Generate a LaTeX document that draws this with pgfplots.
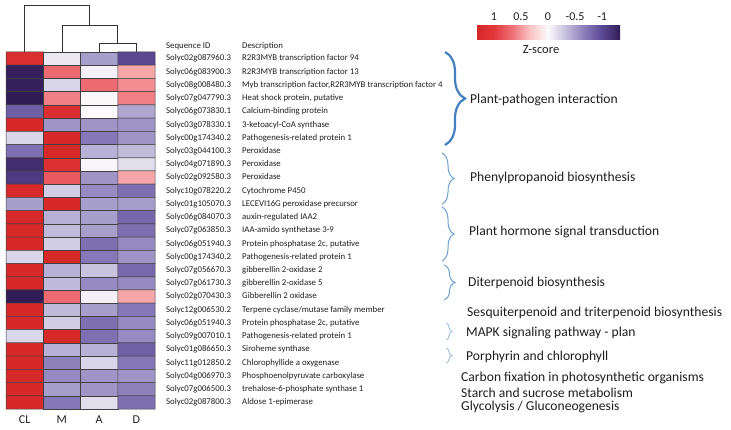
\documentclass[border=0pt]{standalone}
\usepackage{pgfplots}
\pgfplotsset{compat=1.18}
\usepackage{fontspec}
\setmainfont{Carlito}
\usetikzlibrary{decorations.pathreplacing}
\definecolor{bracebig}{RGB}{68,128,192}
\definecolor{bracesm}{RGB}{110,160,212}
\definecolor{bracexs}{RGB}{150,185,222}
\definecolor{txt}{RGB}{30,30,30}
\pgfplotsset{colormap={zs}{rgb255=(50,28,85) rgb255=(90,72,148) rgb255=(138,126,186) rgb255=(195,190,220) rgb255=(252,250,252) rgb255=(250,195,195) rgb255=(238,112,118) rgb255=(226,55,60) rgb255=(215,40,40)}}
\newcommand{\idf}{\fontsize{8.8}{10}\selectfont}
\newcommand{\pw}{\fontsize{13.6}{15}\selectfont}
\newcommand{\rowlab}[2]{\makebox[76pt][l]{#1}#2}
\pgfplotstableread{
x y z
0 0 1.2
1 0 -0.1
2 0 -0.5
3 0 -1.0
0 -1 -1.3
1 -1 0.7
2 -1 -0.05
3 -1 0.45
0 -2 -1.3
1 -2 -0.2
2 -2 0.7
3 -2 0.55
0 -3 -1.4
1 -3 0.6
2 -3 0.02
3 -3 0.6
0 -4 -0.85
1 -4 1.2
2 -4 0.0
3 -4 -0.45
0 -5 1.3
1 -5 -0.55
2 -5 -0.55
3 -5 -0.55
0 -6 -0.2
1 -6 1.3
2 -6 -0.7
3 -6 -0.55
0 -7 -0.75
1 -7 1.3
2 -7 -0.4
3 -7 -0.35
0 -8 -1.2
1 -8 1.15
2 -8 -0.02
3 -8 -0.15
0 -9 -1.1
1 -9 0.8
2 -9 -0.55
3 -9 0.45
0 -10 1.3
1 -10 -0.25
2 -10 -0.6
3 -10 -0.75
0 -11 -0.5
1 -11 1.3
2 -11 -0.5
3 -11 -0.5
0 -12 1.3
1 -12 -0.4
2 -12 -0.5
3 -12 -0.8
0 -13 1.3
1 -13 -0.35
2 -13 -0.5
3 -13 -0.75
0 -14 1.3
1 -14 -0.25
2 -14 -0.75
3 -14 -0.6
0 -15 -0.2
1 -15 1.3
2 -15 -0.7
3 -15 -0.55
0 -16 1.3
1 -16 -0.4
2 -16 -0.3
3 -16 -0.8
0 -17 1.3
1 -17 -0.35
2 -17 -0.6
3 -17 -0.6
0 -18 -1.4
1 -18 0.7
2 -18 -0.05
3 -18 0.45
0 -19 1.3
1 -19 -0.35
2 -19 -0.5
3 -19 -0.7
0 -20 1.3
1 -20 -0.25
2 -20 -0.75
3 -20 -0.6
0 -21 -0.2
1 -21 1.3
2 -21 -0.75
3 -21 -0.6
0 -22 1.3
1 -22 -0.4
2 -22 -0.4
3 -22 -0.85
0 -23 1.3
1 -23 -0.65
2 -23 -0.2
3 -23 -0.7
0 -24 1.3
1 -24 -0.6
2 -24 -0.55
3 -24 -0.55
0 -25 1.3
1 -25 -0.5
2 -25 -0.55
3 -25 -0.65
0 -26 1.3
1 -26 -0.7
2 -26 -0.15
3 -26 -0.75
}\heat
\begin{document}
\begin{tikzpicture}[x=1pt,y=1pt]
\useasboundingbox (0,0) rectangle (731,-430);
\begin{axis}[
 at={(80.5pt,-230.5pt)}, anchor=center,
 width=149pt, height=357pt, scale only axis,
 xmin=-0.5, xmax=3.5, ymin=-26.5, ymax=0.5,
 clip=false,
 axis line style={draw=none},
 major tick length=0pt,
 xtick={0,1,2,3}, xticklabels={CL,M,A,D},
 xticklabel style={font=\fontsize{12}{12}\selectfont, text=txt, yshift=-3pt},
 ytick={0,-1,...,-26},
 yticklabel pos=right,
 yticklabels={
 \rowlab{Solyc02g087960.3}{R2R3MYB transcription factor 94},
 \rowlab{Solyc06g083900.3}{R2R3MYB transcription factor 13},
 \rowlab{Solyc08g008480.3}{Myb transcription factor,R2R3MYB transcription factor 4},
 \rowlab{Solyc07g047790.3}{Heat shock protein, putative},
 \rowlab{Solyc06g073830.1}{Calcium-binding protein},
 \rowlab{Solyc03g078330.1}{3-ketoacyl-CoA synthase},
 \rowlab{Solyc00g174340.2}{Pathogenesis-related protein 1},
 \rowlab{Solyc03g044100.3}{Peroxidase},
 \rowlab{Solyc04g071890.3}{Peroxidase},
 \rowlab{Solyc02g092580.3}{Peroxidase},
 \rowlab{Solyc10g078220.2}{Cytochrome P450},
 \rowlab{Solyc01g105070.3}{LECEVI16G peroxidase precursor},
 \rowlab{Solyc06g084070.3}{auxin-regulated IAA2},
 \rowlab{Solyc07g063850.3}{IAA-amido synthetase 3-9},
 \rowlab{Solyc06g051940.3}{Protein phosphatase 2c, putative},
 \rowlab{Solyc00g174340.2}{Pathogenesis-related protein 1},
 \rowlab{Solyc07g056670.3}{gibberellin 2-oxidase 2},
 \rowlab{Solyc07g061730.3}{gibberellin 2-oxidase 5},
 \rowlab{Solyc02g070430.3}{Gibberellin 2 oxidase},
 \rowlab{Solyc12g006530.2}{Terpene cyclase/mutase family member},
 \rowlab{Solyc06g051940.3}{Protein phosphatase 2c, putative},
 \rowlab{Solyc09g007010.1}{Pathogenesis-related protein 1},
 \rowlab{Solyc01g086650.3}{Siroheme synthase},
 \rowlab{Solyc11g012850.2}{Chlorophyllide a oxygenase},
 \rowlab{Solyc04g006970.3}{Phosphoenolpyruvate carboxylase},
 \rowlab{Solyc07g006500.3}{trehalose-6-phosphate synthase 1},
 \rowlab{Solyc02g087800.3}{Aldose 1-epimerase}},
 yticklabel style={font=\idf, text=txt, anchor=west, inner sep=0pt, xshift=11pt},
 colormap name=zs,
 point meta min=-1.33, point meta max=1.33,
 colorbar horizontal,
 colorbar style={
   at={(parent axis.north east)}, anchor=center,
   xshift=393pt, yshift=30.5pt,
   width=144pt, height=19pt, scale only axis,
   x dir=reverse,
   xtick={-1,-0.5,0,0.5,1},
   xticklabels={-1,-0.5,0,0.5,1},
   xticklabel pos=upper,
   xticklabel style={font=\fontsize{12}{12}\selectfont, text=txt, yshift=-4pt},
   major tick length=0pt,
   axis line style={draw=none},
 },
]
\addplot[matrix plot*, mesh/cols=4, point meta=explicit, draw=black!75, line width=0.5pt] table[x=x, y=y, meta=z] {\heat};
\addplot[black!80, line width=0.7pt, mark=none] coordinates {(0,0.5) (0,4.06) (1.75,4.06) (1.75,2.55)};
\addplot[black!80, line width=0.7pt, mark=none] coordinates {(1,0.5) (1,2.55) (2.5,2.55) (2.5,1.18)};
\addplot[black!80, line width=0.7pt, mark=none] coordinates {(2,0.5) (2,1.18) (3,1.18) (3,0.5)};
\end{axis}
\node[anchor=west, font=\idf, text=txt, inner sep=0pt] at (166,-46) {Sequence ID};
\node[anchor=west, font=\idf, text=txt, inner sep=0pt] at (242,-46) {Description};
\node[font=\fontsize{12.5}{13}\selectfont, text=txt, inner sep=0pt] at (541,-50) {Z-score};
\draw[bracebig, line width=2.2pt, decorate, decoration={brace, amplitude=20pt}] (445,-52) -- (445,-145);
\draw[bracesm, line width=1pt, decorate, decoration={brace, amplitude=12pt}] (442,-153) -- (442,-204);
\draw[bracesm, line width=1pt, decorate, decoration={brace, amplitude=12pt}] (442,-207) -- (442,-261);
\draw[bracesm, line width=1pt, decorate, decoration={brace, amplitude=11pt}] (444,-265) -- (444,-300);
\draw[bracexs, line width=0.8pt, decorate, decoration={brace, amplitude=6pt}] (446,-323) -- (446,-340);
\draw[bracexs, line width=0.8pt, decorate, decoration={brace, amplitude=6pt}] (446,-348) -- (446,-363);
\begin{scope}[every node/.style={anchor=west, font=\pw, text=txt, inner sep=0pt}]
\node at (470,-100) {Plant-pathogen interaction};
\node at (470,-178) {Phenylpropanoid biosynthesis};
\node at (469,-232) {Plant hormone signal transduction};
\node at (468,-283) {Diterpenoid biosynthesis};
\node at (467,-313) {Sesquiterpenoid and triterpenoid biosynthesis};
\node at (466,-333) {MAPK signaling pathway - plan};
\node at (466,-357) {Porphyrin and chlorophyll};
\node at (461,-378) {Carbon fixation in photosynthetic organisms};
\node at (461,-393) {Starch and sucrose metabolism};
\node at (461,-407) {Glycolysis / Gluconeogenesis};
\end{scope}
\end{tikzpicture}
\end{document}
